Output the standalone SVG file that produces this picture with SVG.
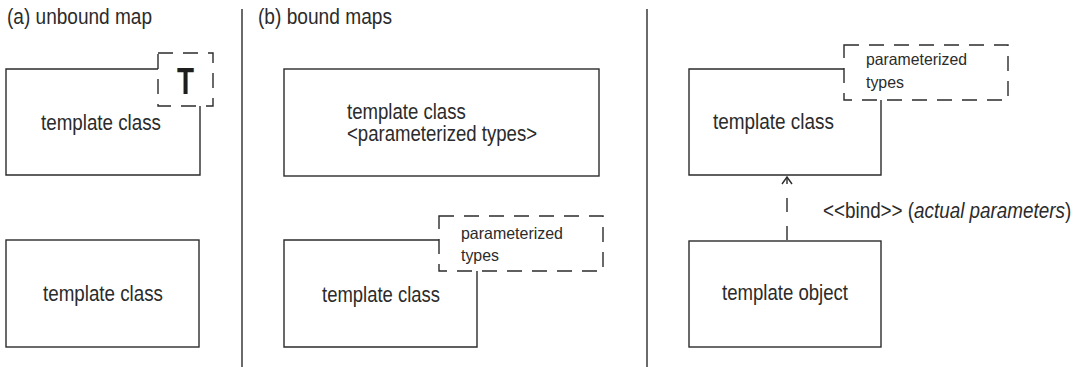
<svg xmlns="http://www.w3.org/2000/svg" width="1083" height="367" viewBox="0 0 1083 367">
<style>
.box{fill:none;stroke:#2b2b2b;stroke-width:1.4}
.dash{fill:none;stroke:#2b2b2b;stroke-width:1.4;stroke-dasharray:15 10}
.sep{stroke:#2b2b2b;stroke-width:1.4}
.t{font-family:"Liberation Sans",Arial,sans-serif;font-size:22px;fill:#2b2b2b}
.s{font-family:"Liberation Sans",Arial,sans-serif;font-size:16.5px;fill:#2b2b2b}
.T{font-family:"Liberation Sans",Arial,sans-serif;font-size:37px;font-weight:bold;fill:#1e1e1e}
</style>
<rect width="1083" height="367" fill="#fff"/>
<g id="separators">
<line class="sep" x1="242" y1="9" x2="242" y2="367"/>
<line class="sep" x1="647" y1="9" x2="647" y2="367"/>
</g>
<g id="titles">
<text class="t" x="7" y="24" textLength="145" lengthAdjust="spacingAndGlyphs">(a) unbound map</text>
<text class="t" x="258" y="24" textLength="134" lengthAdjust="spacingAndGlyphs">(b) bound maps</text>
</g>
<g id="a-template-class">
<path class="box" d="M158,69 H6 V175 H200 V106"/>
<rect class="dash" x="158" y="53" width="55" height="53"/>
<text class="T" x="177" y="94" textLength="17" lengthAdjust="spacingAndGlyphs">T</text>
<text class="t" x="41" y="130" textLength="120" lengthAdjust="spacingAndGlyphs">template class</text>
</g>
<g id="a-template-class-2">
<rect class="box" x="6" y="240" width="193" height="107"/>
<text class="t" x="43" y="301" textLength="120" lengthAdjust="spacingAndGlyphs">template class</text>
</g>
<g id="b-template-class">
<rect class="box" x="284" y="69" width="315" height="107"/>
<text class="t" transform="translate(347,0) scale(0.845,1)"><tspan x="0" y="119">template class</tspan><tspan x="0" y="141">&lt;parameterized types&gt;</tspan></text>
</g>
<g id="b-template-class-2">
<path class="box" d="M439,240 H284 V347 H477 V271"/>
<rect class="dash" x="439" y="216" width="164" height="55"/>
<text class="s" x="461" y="239" textLength="102" lengthAdjust="spacingAndGlyphs">parameterized</text>
<text class="s" x="461" y="261" textLength="38" lengthAdjust="spacingAndGlyphs">types</text>
<text class="t" x="322" y="302" textLength="118" lengthAdjust="spacingAndGlyphs">template class</text>
</g>
<g id="c-template-class">
<path class="box" d="M844,69 H689 V175 H881 V100"/>
<rect class="dash" x="844" y="45" width="164" height="55"/>
<text class="s" x="866" y="65" textLength="101" lengthAdjust="spacingAndGlyphs">parameterized</text>
<text class="s" x="866" y="88" textLength="38" lengthAdjust="spacingAndGlyphs">types</text>
<text class="t" x="713" y="129" textLength="121" lengthAdjust="spacingAndGlyphs">template class</text>
</g>
<g id="c-template-object">
<rect class="box" x="689" y="241" width="192" height="106"/>
<text class="t" x="722" y="300" textLength="126" lengthAdjust="spacingAndGlyphs">template object</text>
</g>
<g id="connectors">
<line x1="787" y1="240" x2="787" y2="178" stroke="#2b2b2b" stroke-width="1.4" stroke-dasharray="14 14"/>
<polyline points="782,184 787,177 792,184" fill="none" stroke="#2b2b2b" stroke-width="1.4"/>
<text class="t" transform="translate(823,218) scale(0.857,1)">&lt;&lt;bind&gt;&gt; (<tspan font-style="italic">actual parameters</tspan>)</text>
</g>
</svg>
